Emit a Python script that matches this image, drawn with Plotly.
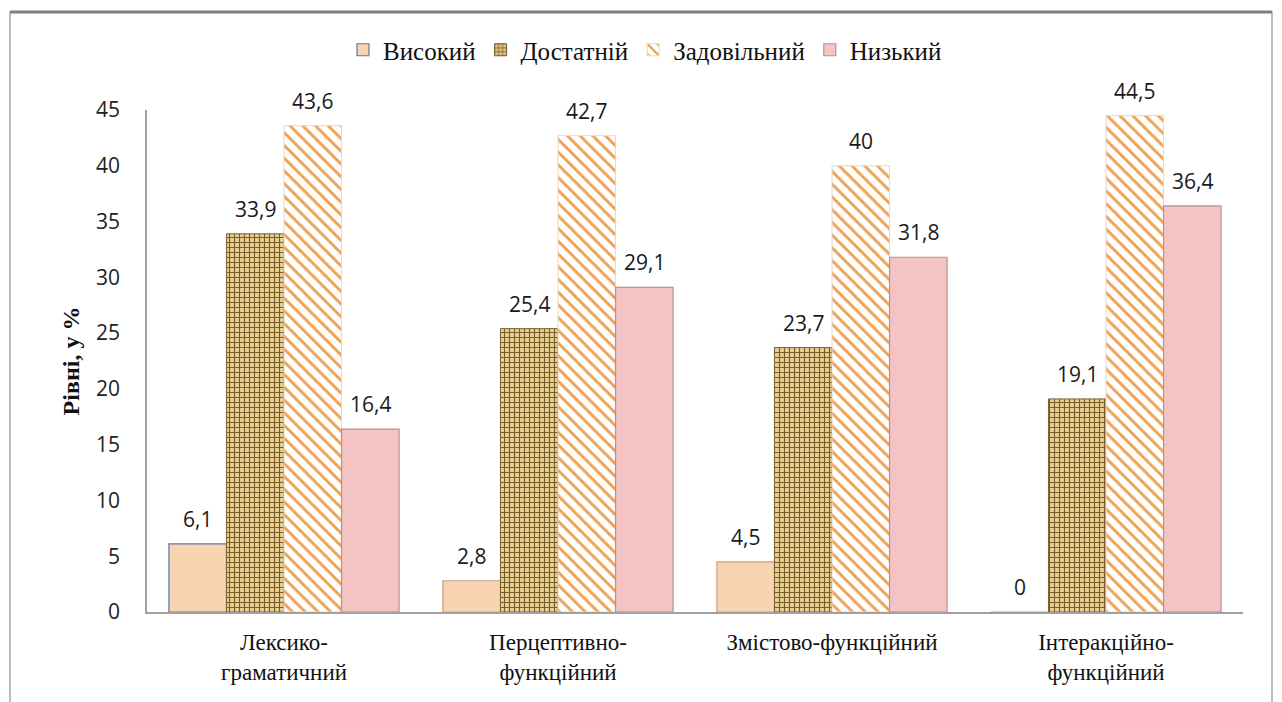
import plotly.graph_objects as go

categories = ["Лексико-<br>граматичний", "Перцептивно-<br>функційний", "Змістово-функційний", "Інтеракційно-<br>функційний"]
series_names = ["Високий", "Достатній", "Задовільний", "Низький"]
vysokyi = [6.1, 2.8, 4.5, 0]
dostatnii = [33.9, 25.4, 23.7, 19.1]
zadovilnyi = [43.6, 42.7, 40, 44.5]
nyzkyi = [16.4, 29.1, 31.8, 36.4]
y_ticks = [0, 5, 10, 15, 20, 25, 30, 35, 40, 45]

def fmt(v):
    return ("%g" % v).replace(".", ",")

# page body has an 8px margin; figure sized to fill the rest of the window
OFF = 8
W, H = 1282 - OFF, 702 - OFF
ML, MR, MT, MB = 139, 39, 102, 90
PW, PH = W - ML - MR, H - MT - MB
BARGAP = 0.16
N_SER = 4

def px2x(px):
    return (px - OFF - ML) / PW

def py2y(py):
    return (H - MB - (py - OFF)) / PH

SERIF = "Liberation Serif"
SANS = "Open Sans"
label_font = dict(family=SANS, size=21, color="#1a1a1a")

series = [
    (series_names[0], vysokyi, dict(color="#F9D4B2",
        line=dict(color=["#5A78A8", "#C9A07E", "#C9A07E", "#C9A07E"], width=1.2))),
    (series_names[1], dostatnii, dict(color="#DDBE7C",
        line=dict(color="#7A6030", width=1),
        pattern=dict(shape="+", fgcolor="#7A5C2A", bgcolor="#E8CF92",
                     size=5, solidity=0.4, fillmode="replace"))),
    (series_names[2], zadovilnyi, dict(color="#F2A65A",
        line=dict(color="#E8D8C8", width=1),
        pattern=dict(shape="\\", fgcolor="#EF9F50", bgcolor="#FFFFFF",
                     size=9, solidity=0.32, fillmode="replace"))),
    (series_names[3], nyzkyi, dict(color="#F4C3C3",
        line=dict(color="#B89090", width=1.2))),
]

fig = go.Figure()
bar_w_px = PW / len(categories) * (1 - BARGAP) / N_SER
for i, (name, vals, marker) in enumerate(series):
    fig.add_trace(go.Bar(name=name, x=categories, y=vals, marker=marker,
                         hoverinfo="x+y+name"))
    for c, v in zip(categories, vals):
        fig.add_annotation(x=c, y=v, text=fmt(v), showarrow=False,
                           xref="x", yref="y", yanchor="bottom",
                           xshift=(i - (N_SER - 1) / 2) * bar_w_px, yshift=9,
                           font=label_font)

# outer frame
fig.add_shape(type="rect", xref="paper", yref="paper",
              x0=px2x(10), x1=px2x(1272), y0=py2y(730), y1=py2y(12),
              line=dict(color="#A6A6A6", width=1.5), layer="below")
fig.add_shape(type="line", xref="paper", yref="paper",
              x0=px2x(10), x1=px2x(1272), y0=py2y(12), y1=py2y(12),
              line=dict(color="#808080", width=3))

fig.update_layout(
    width=W, height=H,
    margin=dict(l=ML, r=MR, t=MT, b=MB),
    paper_bgcolor="white", plot_bgcolor="white",
    font=dict(family=SERIF, color="#111"),
    barmode="group", bargap=BARGAP, bargroupgap=0,
    showlegend=True,
    legend=dict(orientation="h", x=px2x(645), xanchor="center",
                y=py2y(50), yanchor="middle",
                font=dict(family=SERIF, size=25, color="#111"),
                itemwidth=30, traceorder="normal"),
    xaxis=dict(showline=True, linecolor="#A0A0A0", linewidth=2,
               ticks="", showgrid=False, ticklabelstandoff=8,
               tickfont=dict(family=SERIF, size=23, color="#111")),
    yaxis=dict(range=[0, 45], tickvals=y_ticks, ticktext=[str(t) for t in y_ticks],
               showline=True, linecolor="#A0A0A0", linewidth=1.5,
               ticks="", showgrid=False, zeroline=False,
               tickfont=dict(family=SANS, size=21, color="#222"),
               ticklabelstandoff=21,
               title=dict(text="<b>Рівні, у %</b>", standoff=10,
                          font=dict(family=SERIF, size=24, color="#111"))),
)

fig.write_html("out.html")
